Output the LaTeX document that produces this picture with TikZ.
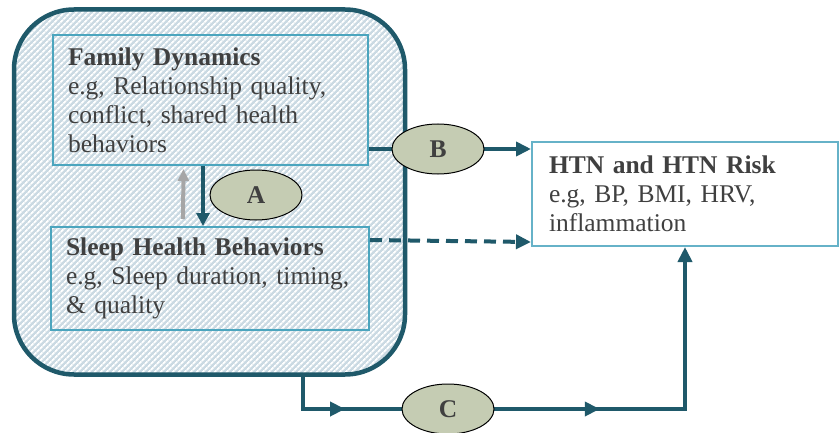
\documentclass[tikz,border=0pt]{standalone}
\usepackage{fontspec}
\setmainfont{Liberation Serif}
\usetikzlibrary{arrows.meta,shapes.geometric,patterns.meta,decorations.markings}
\definecolor{tealdark}{HTML}{1F596A}
\definecolor{tealline}{HTML}{4BA5BE}
\definecolor{hatchbg}{HTML}{CBDAE3}
\definecolor{ovalfill}{HTML}{C5CCB3}
\definecolor{txtgray}{HTML}{404040}
\definecolor{feedback}{HTML}{A6A6A6}

\begin{document}
\begin{tikzpicture}[x=1pt, y=-1pt,
  font=\fontsize{25.5}{29}\selectfont, text=txtgray,
  outer/.style={draw=tealdark, line width=4.5pt, rounded corners=60pt,
    preaction={fill=hatchbg},
    pattern={Lines[angle=45, distance=4pt, line width=1.8pt]}, pattern color=white,
    minimum width=391pt, minimum height=365pt},
  factor/.style={draw=tealline, line width=2pt, align=left, inner xsep=15pt},
  oval/.style={ellipse, draw=black, line width=1pt, fill=ovalfill,
    minimum width=92pt, minimum height=50pt, font=\fontsize{25.5}{29}\selectfont\bfseries},
  link/.style={draw=tealdark, line width=4pt},
  tip/.style={-{Triangle[length=15pt, width=14pt]}}]
  \useasboundingbox (0,0) rectangle (840,433);

  % context box with the two family level factors
  \node[outer] (big) at (209.5,192) {};
  \node[factor, text width=285pt, minimum height=130pt] (fam) at (210.5,100)
    {\textbf{Family Dynamics}\\e.g, Relationship quality,\\conflict, shared health\\behaviors};
  \node[factor, text width=288pt, minimum height=103pt] (sleep) at (210,278.5)
    {\textbf{Sleep Health Behaviors}\\e.g, Sleep duration, timing,\\\& quality};

  % outcome
  \node[factor, draw=tealline!85, fill=white, inner xsep=17pt, text width=272pt, minimum height=104pt] (htn) at (685,194)
    {\textbf{HTN and HTN Risk}\\e.g, BP, BMI, HRV,\\inflammation};

  \coordinate (Apos) at (256,195);
  \coordinate (Bpos) at (438,149);
  \coordinate (Cpos) at (448,409);

  % paths
  \draw[line width=4pt, draw=feedback, -{Triangle[length=12pt, width=11pt]}]
    ([xshift=-27pt, yshift=7pt]sleep.north) -- ([xshift=-27pt, yshift=-3pt]fam.south);
  \draw[link, -{Triangle[length=13pt, width=13pt]}]
    ([xshift=-7.5pt]fam.south) -- ([xshift=-7pt]sleep.north);
  \draw[link, tip] (fam.east |- Bpos) -- (htn.west |- Bpos);
  \draw[link, tip, dash pattern=on 12pt off 7pt]
    ([yshift=-14pt]sleep.north east) -- ([yshift=5pt]htn.south west);
  \draw[link, tip, postaction=decorate, decoration={markings,
      mark=at position 0.131 with {\arrow[tealdark]{Triangle[length=15pt, width=14pt]}},
      mark=at position 0.572 with {\arrow[tealdark]{Triangle[length=15pt, width=14pt]}}}]
    ([xshift=93.5pt]big.south) |- (Cpos) -| (htn.south);

  % path labels
  \node[oval] (ovalA) at (Apos) {A};
  \node[oval] (ovalB) at (Bpos) {B};
  \node[oval] (ovalC) at (Cpos) {C};
\end{tikzpicture}
\end{document}
